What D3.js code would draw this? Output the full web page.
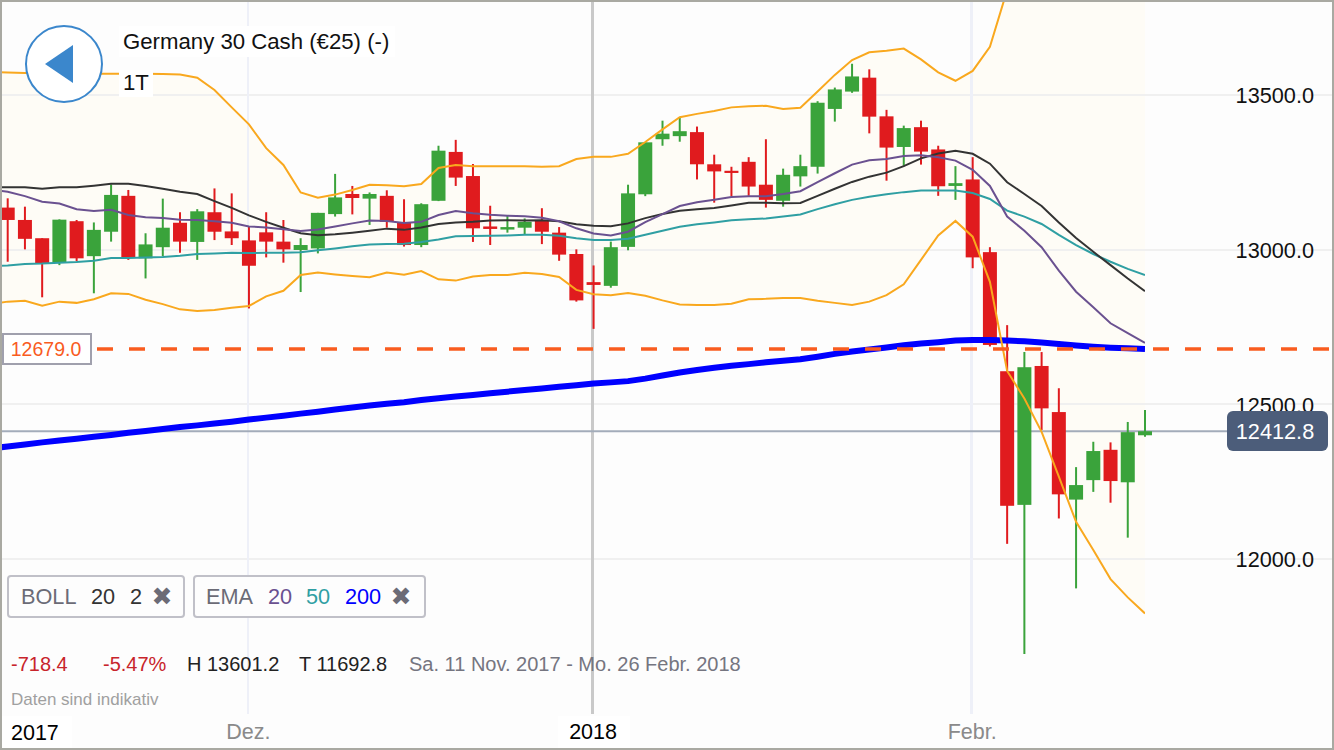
<!DOCTYPE html>
<html>
<head>
    <meta charset="utf-8">
    <title>Germany 30 Cash</title>
    <style>
        html, body { margin: 0; padding: 0; background: #fdfdfd; overflow: hidden; }
        svg { display: block; font-family: "Liberation Sans", Arial, sans-serif; }
        .tick line, .domain { shape-rendering: crispEdges; }
    </style>
</head>

<body>
    <div id="chart"></div>

    <script src="https://d3js.org/d3.v7.min.js"></script>
    <script>
var width = 1334;
var height = 750;

// candles, one entry per trading day
var opens = [13136,13096,13037,12958,13092,12979,13058,13174,12972,13008,13087,13025,13121,13059,13030,13056,13026,12999,13004,13115,13180,13165,13174,13087,13015,13158,13316,13238,13075,13065,13071,13094,13055,12986,12895,12883,13009,13179,13357,13367,13380,13276,13255,13284,13210,13158,13237,13268,13455,13511,13556,13431,13332,13396,13324,13206,13227,12992,12607,12175,12624,12475,12192,12255,12353,12248,12400];
var highs = [13166,13139,13037,13098,13096,13088,13211,13193,13053,13165,13121,13131,13198,13182,13074,13121,13096,13037,13119,13245,13206,13185,13192,13163,13150,13336,13355,13277,13142,13109,13101,13134,13073,13001,12949,13026,13210,13348,13417,13428,13398,13307,13268,13299,13357,13262,13307,13480,13524,13601,13583,13452,13401,13417,13336,13270,13299,13008,12756,12669,12669,12552,12297,12379,12377,12443,12482];
var lows = [12961,13001,12846,12950,12963,12859,13026,12967,12907,12979,12990,12967,13031,13015,12810,12975,12958,12863,12988,13107,13114,13080,13071,13010,13008,13157,13206,13025,13015,13055,13050,13018,12964,12832,12744,12877,12998,13173,13336,13349,13227,13152,13173,13174,13136,13139,13204,13246,13414,13507,13376,13223,13271,13275,13174,13161,12940,12687,12049,11693,12417,12131,11905,12217,12182,12069,12395];
var closes = [13096,13035,12956,13097,12972,13064,13177,12975,13017,13071,13026,13124,13058,13037,12948,13026,13001,13015,13119,13169,13167,13180,13090,13015,13147,13320,13233,13069,13067,13073,13090,13058,12984,12836,12886,13008,13182,13347,13375,13383,13276,13253,13248,13204,13161,13242,13270,13475,13518,13560,13430,13330,13393,13317,13205,13215,12975,12692,12172,12620,12487,12209,12239,12349,12252,12410,12413];

// indicators, these start one day before the first candle (off the left edge)
var bollUpper = [13574,13573,13571,13571,13571,13570,13569,13569,13569,13569,13568,13566,13556,13516,13460,13405,13328,13274,13185,13168,13178,13193,13210,13208,13205,13212,13264,13274,13270,13270,13270,13270,13268,13270,13293,13300,13300,13310,13348,13389,13428,13439,13448,13460,13464,13465,13455,13459,13511,13565,13613,13638,13643,13650,13615,13573,13546,13578,13656,13839,14001,14163,14260,14324,14357,14373,14389,14405];
var bollMean = [13202,13202,13202,13197,13202,13202,13207,13213,13213,13206,13197,13187,13180,13157,13135,13111,13090,13071,13053,13047,13050,13055,13061,13068,13064,13072,13083,13088,13090,13094,13095,13094,13095,13092,13082,13077,13076,13085,13102,13115,13126,13131,13135,13143,13152,13152,13150,13151,13174,13197,13219,13236,13249,13270,13295,13311,13320,13310,13278,13218,13180,13141,13088,13038,12993,12950,12907,12866];
var bollLower = [12824,12832,12835,12819,12832,12828,12840,12859,12857,12838,12824,12807,12802,12805,12812,12818,12849,12867,12918,12926,12920,12915,12911,12926,12919,12931,12904,12900,12913,12918,12918,12925,12921,12912,12870,12856,12853,12860,12851,12836,12823,12821,12821,12825,12840,12841,12844,12844,12835,12828,12821,12832,12853,12888,12967,13046,13093,13042,12896,12608,12519,12411,12266,12120,12029,11935,11876,11824];
var ema20 = [13194,13187,13173,13155,13149,13131,13125,13129,13112,13105,13102,13097,13096,13092,13087,13075,13072,13066,13060,13065,13075,13085,13094,13093,13086,13090,13112,13125,13118,13113,13110,13108,13103,13092,13069,13052,13046,13058,13089,13115,13141,13153,13161,13170,13173,13173,13180,13189,13218,13247,13275,13289,13293,13303,13305,13299,13288,13258,13206,13107,13061,13008,12932,12864,12814,12762,12730,12699];
var ema50 = [12947,12949,12954,12955,12958,12960,12964,12973,12973,12975,12976,12980,12986,12988,12990,12989,12990,12990,12992,12998,13004,13011,13017,13018,13019,13025,13033,13043,13044,13045,13046,13048,13048,13045,13037,13031,13031,13035,13048,13061,13074,13082,13088,13095,13098,13101,13107,13114,13131,13147,13161,13171,13179,13186,13191,13191,13191,13183,13164,13126,13107,13083,13048,13015,12986,12961,12938,12918];
var ema200 = [12357,12364,12370,12377,12383,12389,12395,12401,12408,12414,12420,12427,12432,12438,12444,12451,12457,12463,12470,12476,12483,12490,12496,12502,12507,12514,12520,12525,12530,12536,12541,12546,12551,12557,12562,12567,12571,12575,12583,12593,12603,12611,12618,12625,12630,12636,12641,12646,12654,12663,12671,12677,12684,12691,12697,12701,12706,12708,12708,12706,12704,12700,12695,12690,12686,12683,12681,12679];

var priceTicks = [12000, 12500, 13000, 13500];
var monthDays = [14, 34, 56];
var monthLabels = ["Dez.", "2018", "Febr."];
var lastPrice = 12412.8;
var orderLevel = 12679;

var red = "#e01b1e";
var green = "#3aa33b";

var x = d3.scaleLinear().domain([0, closes.length - 1]).range([7.7, 1145]);
var y = d3.scaleLinear().domain([12000, 13500]).range([559, 95]);

var svg = d3.select("#chart")
    .append("svg")
    .attr("width", width)
    .attr("height", height);

svg.append("rect").attr("width", width).attr("height", height).attr("fill", "#fdfdfd");

svg.append("clipPath").attr("id", "plot")
    .append("rect").attr("x", 0).attr("y", 0).attr("width", 1145).attr("height", 714);

// bollinger band shading
var days = d3.range(bollUpper.length);
var band = d3.area()
    .x(function(i) { return x(i - 1); })
    .y0(function(i) { return y(bollLower[i]); })
    .y1(function(i) { return y(bollUpper[i]); });

svg.append("path")
    .attr("clip-path", "url(#plot)")
    .attr("d", band(days))
    .attr("fill", "#fefcf6");

// grid
var gridY = svg.append("g")
    .call(d3.axisRight(y).tickValues(priceTicks).tickSize(width).tickFormat("").offset(0));
gridY.select(".domain").remove();
gridY.selectAll("line").attr("stroke", "#f0f0f0").attr("stroke-width", 2);

var gridX = svg.append("g")
    .attr("transform", "translate(-1,714)")
    .call(d3.axisTop(x).tickValues(monthDays).tickSize(714).tickFormat("").offset(0));
gridX.select(".domain").remove();
gridX.selectAll("line")
    .attr("stroke", function(d) { return d == 34 ? "#c9c9c9" : "#eef0f8"; })
    .attr("stroke-width", function(d) { return d == 34 ? 3 : 2.5; });

// last price line
svg.append("line")
    .attr("x1", 0).attr("x2", 1230)
    .attr("y1", y(lastPrice)).attr("y2", y(lastPrice))
    .attr("stroke", "#a3acba").attr("stroke-width", 2);

// candles
var candles = svg.append("g").selectAll("g")
    .data(closes)
    .enter()
    .append("g")
    .attr("fill", function(d, i) { return d >= opens[i] ? green : red; })
    .attr("stroke", function(d, i) { return d >= opens[i] ? green : red; });

candles.append("line")
    .attr("x1", function(d, i) { return x(i); })
    .attr("x2", function(d, i) { return x(i); })
    .attr("y1", function(d, i) { return y(highs[i]); })
    .attr("y2", function(d, i) { return y(lows[i]); })
    .attr("stroke-width", 2);

candles.append("rect")
    .attr("stroke", "none")
    .attr("x", function(d, i) { return x(i) - 7; })
    .attr("width", 14)
    .attr("y", function(d, i) { return y(Math.max(opens[i], closes[i])); })
    .attr("height", function(d, i) { return Math.abs(y(opens[i]) - y(closes[i])); });

// indicator lines
var line = d3.line()
    .x(function(d, i) { return x(i - 1); })
    .y(function(d) { return y(d); });

var series = [
    [ema200, "#0000ff", 6],
    [ema50, "#2f9fa3", 2],
    [bollMean, "#333333", 2],
    [ema20, "#6a5190", 2],
    [bollUpper, "#f9a81e", 2],
    [bollLower, "#f9a81e", 2]
];

svg.append("g")
    .attr("clip-path", "url(#plot)")
    .selectAll("path")
    .data(series)
    .enter()
    .append("path")
    .attr("d", function(d) { return line(d[0]); })
    .attr("fill", "none")
    .attr("stroke", function(d) { return d[1]; })
    .attr("stroke-width", function(d) { return d[2]; });

// order level
svg.append("line")
    .attr("x1", 97).attr("x2", 1330)
    .attr("y1", y(orderLevel)).attr("y2", y(orderLevel))
    .attr("stroke", "#f95c1f").attr("stroke-width", 3.5)
    .attr("stroke-dasharray", "16 16");

svg.append("rect")
    .attr("x", 3).attr("y", 334).attr("width", 88).attr("height", 30)
    .attr("fill", "#fff").attr("stroke", "#a0a0ad").attr("stroke-width", 2);

svg.append("text")
    .attr("x", 46).attr("y", 356)
    .attr("text-anchor", "middle")
    .attr("font-size", 19.5).attr("fill", "#f95c1f")
    .text(d3.format(".1f")(orderLevel));

// price axis
var axisY = svg.append("g")
    .attr("transform", "translate(1314,0.8)")
    .call(d3.axisRight(y).tickValues(priceTicks).tickSize(0).tickPadding(0).tickFormat(d3.format(".1f")));
axisY.select(".domain").remove();
axisY.selectAll("text")
    .attr("text-anchor", "end")
    .attr("font-family", "Liberation Sans")
    .attr("font-size", 21.7)
    .attr("fill", "#111");

svg.append("rect")
    .attr("x", 1227).attr("y", 411).attr("width", 101).attr("height", 40).attr("rx", 6)
    .attr("fill", "#4c5d7a");

svg.append("text")
    .attr("x", 1275).attr("y", 439)
    .attr("text-anchor", "middle")
    .attr("font-size", 21.7).attr("fill", "#fff")
    .text(d3.format(".1f")(lastPrice));

// time axis
svg.append("rect").attr("x", 2).attr("y", 714).attr("width", 1330).attr("height", 34).attr("fill", "#fdfdfd");
svg.append("rect").attr("x", 2).attr("y", 716).attr("width", 70).attr("height", 32).attr("fill", "#fff");
svg.append("rect").attr("x", 558).attr("y", 716).attr("width", 72).attr("height", 32).attr("fill", "#fff");

var axisX = svg.append("g")
    .attr("transform", "translate(-1,724)")
    .call(d3.axisBottom(x).tickValues(monthDays).tickSize(0).tickPadding(0)
        .tickFormat(function(d, i) { return monthLabels[i]; }));
axisX.select(".domain").remove();
axisX.selectAll("text")
    .attr("font-family", "Liberation Sans")
    .attr("font-size", 21.5)
    .attr("fill", function(d) { return d == 34 ? "#000" : "#8a8a8a"; });

svg.append("text")
    .attr("x", 11).attr("y", 740)
    .attr("font-size", 21.5).attr("fill", "#000")
    .text("2017");

// header
svg.append("rect").attr("x", 119).attr("y", 26).attr("width", 276).attr("height", 31).attr("fill", "#fff");
svg.append("rect").attr("x", 119).attr("y", 70).attr("width", 34).attr("height", 27).attr("fill", "#fff");

svg.append("text")
    .attr("x", 123).attr("y", 49)
    .attr("font-size", 22.2).attr("fill", "#111")
    .text("Germany 30 Cash (€25) (-)");

svg.append("text")
    .attr("x", 123).attr("y", 90)
    .attr("font-size", 22.2).attr("fill", "#111")
    .text("1T");

svg.append("circle")
    .attr("cx", 64).attr("cy", 64).attr("r", 38)
    .attr("fill", "#fff").attr("stroke", "#3b87cc").attr("stroke-width", 2);

svg.append("path")
    .attr("d", "M73,45L45,64L73,83Z")
    .attr("fill", "#3b87cc");

// indicator chips
var chips = [[8, 176], [194, 231]];
svg.append("g").selectAll("rect")
    .data(chips)
    .enter()
    .append("rect")
    .attr("x", function(d) { return d[0]; })
    .attr("y", 576)
    .attr("width", function(d) { return d[1]; })
    .attr("height", 41)
    .attr("rx", 3)
    .attr("fill", "#fdfdfd")
    .attr("stroke", "#c0c0c8")
    .attr("stroke-width", 2);

var chipLabels = [
    ["BOLL", 21, "#6b6b76"], ["20", 91, "#333"], ["2", 130, "#333"],
    ["EMA", 206, "#6b6b76"], ["20", 268, "#6a5190"], ["50", 306, "#2f9fa3"], ["200", 345, "#0000ff"]
];
svg.append("g").selectAll("text")
    .data(chipLabels)
    .enter()
    .append("text")
    .attr("x", function(d) { return d[1]; })
    .attr("y", 604)
    .attr("font-size", 21.7)
    .attr("fill", function(d) { return d[2]; })
    .text(function(d) { return d[0]; });

svg.append("g").selectAll("text")
    .data([162, 401])
    .enter()
    .append("text")
    .attr("x", function(d) { return d; })
    .attr("y", 605)
    .attr("text-anchor", "middle")
    .attr("font-family", "DejaVu Sans")
    .attr("font-size", 25)
    .attr("fill", "#6b6b76")
    .text("✖");

// stats row
var stats = [
    ["-718.4", 11, "#c8242b"], ["-5.47%", 103, "#c8242b"],
    ["H 13601.2", 187, "#222"], ["T 11692.8", 299, "#222"],
    ["Sa. 11 Nov. 2017 - Mo. 26 Febr. 2018", 409, "#757580"]
];
svg.append("g").selectAll("text")
    .data(stats)
    .enter()
    .append("text")
    .attr("x", function(d) { return d[1]; })
    .attr("y", 671)
    .attr("font-size", 20)
    .attr("fill", function(d) { return d[2]; })
    .text(function(d) { return d[0]; });

svg.append("text")
    .attr("x", 11).attr("y", 705)
    .attr("font-size", 17).attr("fill", "#a0a0a0")
    .text("Daten sind indikativ");

// frame
svg.append("rect")
    .attr("x", 1).attr("y", 1).attr("width", width - 2).attr("height", height - 2)
    .attr("fill", "none").attr("stroke", "#a9a9a2").attr("stroke-width", 2);
    </script>
</body>
</html>
